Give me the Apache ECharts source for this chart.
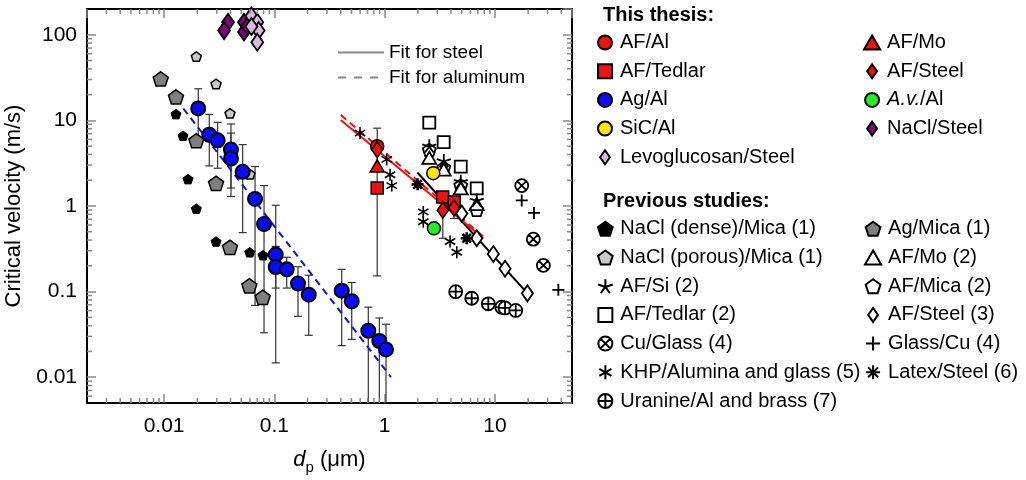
<!DOCTYPE html>
<html>
<head>
<meta charset="utf-8">
<script src="https://cdn.jsdelivr.net/npm/echarts@6/dist/echarts.min.js"></script>
<style>
  html, body { margin: 0; padding: 0; background: #fff; }
  #chart { width: 1026px; height: 480px; }
</style>
</head>
<body>
<div id="chart"></div>
<script>
// ---- Axis ranges (log scales) ----
const xRange = [0.002, 50];
const yRange = [0.005, 200];

// ---- This thesis: [d_p (um), critical velocity (m/s)] ----
const afAl = [[0.856, 4.99]];
const afMo = [[0.856, 2.94]];
const afTedlar = [[0.856, 1.62], [3.36, 1.27], [4.28, 1.11]];
const afSteel = [[0.856, 4.56], [3.37, 0.892], [4.26, 0.948]];
const agAl = [
  [0.0204, 13.8], [0.0257, 6.79], [0.0306, 5.85], [0.0404, 4.56], [0.0404, 3.59],
  [0.0516, 2.51], [0.0668, 1.21], [0.0806, 0.616], [0.1029, 0.271], [0.1029, 0.194],
  [0.1294, 0.182], [0.1638, 0.124], [0.205, 0.0922], [0.408, 0.1025], [0.503, 0.0772],
  [0.711, 0.0349], [0.895, 0.0265], [1.029, 0.0211]
];
const avAl = [[2.80, 0.548]];
const sicAl = [[2.76, 2.42]];
const naclSteel = [[0.038, 140], [0.035, 112], [0.053, 140], [0.053, 108], [0.057, 126]];
const levoSteel = [[0.062, 166], [0.070, 140], [0.072, 112], [0.070, 82], [0.062, 125]];

// ---- Error bars: [d_p, lower, upper] ----
const agAlErr = [
  [0.0204, 6.22, 23.4], [0.0257, 2.94, 11.75], [0.0306, 2.76, 9.5], [0.0404, 1.62, 9.08],
  [0.0404, 1.29, 7.1], [0.0516, 0.489, 5.21], [0.0668, 0.0689, 2.89], [0.0806, 0.0331, 1.73],
  [0.1029, 0.0147, 1.02], [0.1029, 0.11, 0.3375], [0.1294, 0.11, 0.252], [0.1638, 0.0515, 0.195],
  [0.205, 0.0309, 0.1553], [0.408, 0.0234, 0.182], [0.503, 0.0277, 0.1277],
  [0.711, 0.001, 0.0658], [0.895, 0.001, 0.0492], [1.029, 0.001, 0.0416]
];
const afErr = [[0.856, 0.1525, 8.11], [3.37, 0.42, 1.15], [4.26, 0.714, 1.2]];

// ---- Previous studies ----
const naclDenseMica = [[0.01282, 11.84], [0.01485, 6.61], [0.01647, 2.06], [0.0196, 0.931], [0.0296, 0.385], [0.0598, 0.288], [0.0789, 0.266]];
const naclPorousMica = [[0.0196, 55.6], [0.0296, 26.7], [0.0396, 12.1], [0.0601, 2.35]];
const agMica = [[0.00932, 30.5], [0.01282, 18.8], [0.0196, 5.79], [0.0296, 1.84], [0.0396, 0.329], [0.0593, 0.117], [0.0784, 0.0858]];
const afSi = [[2.54, 5.03], [3.44, 3.38], [4.9, 1.94], [6.84, 1.17]];
const afTedlarPrev = [[2.54, 9.43], [3.43, 5.57], [4.9, 2.89], [6.84, 1.61]];
const afMoPrev = [[2.54, 3.66], [3.44, 2.67], [4.9, 1.61], [6.84, 1.055]];
const afMicaPrev = [[2.54, 4.53], [3.44, 2.81], [4.9, 1.74], [6.84, 0.9]];
const afSteelPrev = [[5.0, 0.816], [6.84, 0.42], [9.67, 0.275], [12.35, 0.185], [19.7, 0.0954]];
const cuGlass = [[17.5, 1.73], [22.3, 0.41], [27.5, 0.2025]];
const glassCu = [[17.5, 1.163], [22.6, 0.831], [37.6, 0.105]];
const khp = [[0.598, 7.1], [1.044, 3.5], [1.119, 2.32], [1.16, 1.73], [2.24, 0.853], [2.24, 0.655], [3.92, 0.385], [4.51, 0.288]];
const latexSteel = [[1.99, 1.79], [5.55, 0.42]];
const uranine = [[4.41, 0.0998], [6.16, 0.0836], [8.71, 0.072], [11.53, 0.0658], [12.35, 0.0645], [15.44, 0.0603]];

// ---- Fit lines ----
const fitSteelAF = [[0.4, 10.1], [7.85, 0.42]];
const fitSteelPrev = [[1.98, 2.46], [19.4, 0.098]];
const fitAlAF = [[0.4, 11.6], [7.85, 0.44]];
const fitAlAg = [[0.01494, 13.77], [1.143, 0.01004]];

// ---- Legend entries ----
const thesisCol1 = ['AF/Al', 'AF/Tedlar', 'Ag/Al', 'SiC/Al', 'Levoglucosan/Steel'];
const thesisCol2 = ['AF/Mo', 'AF/Steel', 'A.v./Al', 'NaCl/Steel'];
const prevCol1 = ['NaCl (dense)/Mica (1)', 'NaCl (porous)/Mica (1)', 'AF/Si (2)', 'AF/Tedlar (2)', 'Cu/Glass (4)', 'KHP/Alumina and glass (5)', 'Uranine/Al and brass (7)'];
const prevCol2 = ['Ag/Mica (1)', 'AF/Mo (2)', 'AF/Mica (2)', 'AF/Steel (3)', 'Glass/Cu (4)', 'Latex/Steel (6)'];

// ---- Marker shapes ----
const CIRCLE = 'path://M50,0A50,50,0,1,1,50,100A50,50,0,1,1,50,0Z';
const TRI = 'path://M50,0L100,86.6L0,86.6Z';
const SQUARE = 'path://M0,0L100,0L100,100L0,100Z';
const DIAMOND = 'path://M35,0L70,50L35,100L0,50Z';
const PENT = 'path://M50,0L97.55,34.55L79.39,90.45L20.61,90.45L2.45,34.55Z';
const PLUS = 'path://M50,0L50,100M0,50L100,50';
const OTIMES = 'path://M50,0A50,50,0,1,1,50,100A50,50,0,1,1,50,0ZM14.6,14.6L85.4,85.4M85.4,14.6L14.6,85.4';
const OPLUS = 'path://M50,0A50,50,0,1,1,50,100A50,50,0,1,1,50,0ZM50,0L50,100M0,50L100,50';
const ASTER = 'path://M50,0L50,100M6.7,25L93.3,75M93.3,25L6.7,75';
const STAR5 = 'path://M50,50L50,0M50,50L97.55,34.55M50,50L79.39,90.45M50,50L20.61,90.45M50,50L2.45,34.55';
const BURST = 'path://M50,0L50,100M0,50L100,50M14.6,14.6L85.4,85.4M85.4,14.6L14.6,85.4';

const FONT = 'Liberation Sans';

function scatter(name, data, symbol, size, fill, bw, z) {
  return {
    type: 'scatter', name: name, data: data, symbol: symbol, symbolSize: size,
    symbolKeepAspect: true, z: z || 3,
    itemStyle: { color: fill, borderColor: '#000', borderWidth: bw, opacity: 1 },
    emphasis: { disabled: true }
  };
}

function fitLine(name, data, color, dashed) {
  return {
    type: 'line', name: name, data: data, symbol: 'none', z: 2,
    lineStyle: { color: color, width: 2, type: dashed ? [7, 5] : 'solid' },
    itemStyle: { color: color },
    emphasis: { disabled: true }
  };
}

function errorBars(data) {
  return {
    type: 'custom', silent: true, z: 2, clip: true, data: data,
    encode: { x: 0, y: [1, 2] },
    renderItem: function (params, api) {
      const x = api.value(0);
      const lo = api.coord([x, api.value(1)]);
      const hi = api.coord([x, api.value(2)]);
      const c = 4;
      const st = { stroke: '#333', lineWidth: 1.2 };
      return {
        type: 'group',
        children: [
          { type: 'line', shape: { x1: lo[0], y1: lo[1], x2: hi[0], y2: hi[1] }, style: st },
          { type: 'line', shape: { x1: hi[0] - c, y1: hi[1], x2: hi[0] + c, y2: hi[1] }, style: st },
          { type: 'line', shape: { x1: lo[0] - c, y1: lo[1], x2: lo[0] + c, y2: lo[1] }, style: st }
        ]
      };
    }
  };
}

// minor ticks at 2..9 within each decade
function minorValues(range) {
  const out = [];
  for (let e = Math.floor(Math.log10(range[0])); e <= Math.ceil(Math.log10(range[1])); e++) {
    for (let k = 2; k <= 9; k++) {
      const v = k * Math.pow(10, e);
      if (v > range[0] && v < range[1]) out.push(v);
    }
  }
  return out;
}
const xMinor = minorValues(xRange);
const yMinor = minorValues(yRange);

function minorTicks(isX) {
  return {
    type: 'custom', silent: true, z: 5, clip: false,
    data: isX ? xMinor.map(v => [v, 1]) : yMinor.map(v => [1, v]),
    encode: { x: 0, y: 1 },
    renderItem: function (params, api) {
      const cs = params.coordSys;
      const p = api.coord([api.value(0), api.value(1)]);
      const L = 5;
      const st = { stroke: '#888', lineWidth: 1.5 };
      if (isX) {
        return { type: 'group', children: [
          { type: 'line', shape: { x1: p[0], y1: cs.y + cs.height, x2: p[0], y2: cs.y + cs.height - L }, style: st },
          { type: 'line', shape: { x1: p[0], y1: cs.y, x2: p[0], y2: cs.y + L }, style: st }
        ] };
      }
      return { type: 'group', children: [
        { type: 'line', shape: { x1: cs.x, y1: p[1], x2: cs.x + L, y2: p[1] }, style: st },
        { type: 'line', shape: { x1: cs.x + cs.width, y1: p[1], x2: cs.x + cs.width - L, y2: p[1] }, style: st }
      ] };
    }
  };
}

const axisCommon = {
  type: 'log', logBase: 10,
  axisLine: { show: true, lineStyle: { color: '#000', width: 2 } },
  axisTick: { show: true, inside: true, length: 9, lineStyle: { color: '#888', width: 1.5 } },
  splitLine: { show: false },
  minorTick: { show: false }
};

const legendText = {
  fontFamily: FONT, fontSize: 20, color: '#000',
  rich: { it: { fontFamily: FONT, fontSize: 20, fontStyle: 'italic', color: '#000' },
          n: { fontFamily: FONT, fontSize: 20, color: '#000' } }
};
function legendFmt(name) {
  return name === 'A.v./Al' ? '{it|A.v.}{n|/Al}' : name;
}
function legendCol(data, left, top) {
  return {
    data: data, orient: 'vertical', left: left, top: top, itemWidth: 20, itemHeight: 14,
    itemGap: 8.7, padding: 0, textStyle: legendText, formatter: legendFmt, selectedMode: false
  };
}

const option = {
  animation: false,
  backgroundColor: '#fff',
  textStyle: { fontFamily: FONT },
  title: [
    { text: 'This thesis:', left: 603, top: 5, padding: 0, textStyle: { fontFamily: FONT, fontSize: 20, fontWeight: 'bold', color: '#000' } },
    { text: 'Previous studies:', left: 603, top: 191, padding: 0, textStyle: { fontFamily: FONT, fontSize: 20, fontWeight: 'bold', color: '#000' } }
  ],
  grid: { left: 87, top: 9, right: 454, bottom: 71, containLabel: false },
  xAxis: [
    Object.assign({}, axisCommon, {
      position: 'bottom', min: xRange[0], max: xRange[1],
      name: '{i|d}{s|p}{n| (μm)}', nameLocation: 'middle', nameGap: 42,
      nameTextStyle: { rich: {
        i: { fontFamily: FONT, fontSize: 22, fontStyle: 'italic', color: '#000', lineHeight: 30 },
        s: { fontFamily: FONT, fontSize: 15, color: '#000', lineHeight: 18, verticalAlign: 'bottom' },
        n: { fontFamily: FONT, fontSize: 22, color: '#000', lineHeight: 30 }
      } },
      axisLabel: { show: true, margin: 13, fontFamily: FONT, fontSize: 21, color: '#000', showMinLabel: false, showMaxLabel: false }
    }),
    Object.assign({}, axisCommon, { position: 'top', min: xRange[0], max: xRange[1], axisLabel: { show: false } })
  ],
  yAxis: [
    Object.assign({}, axisCommon, {
      position: 'left', min: yRange[0], max: yRange[1],
      name: 'Critical velocity (m/s)', nameLocation: 'middle', nameGap: 62, nameRotate: 90,
      nameTextStyle: { fontFamily: FONT, fontSize: 22, color: '#000' },
      axisLabel: { show: true, margin: 10, fontFamily: FONT, fontSize: 21, color: '#000', showMinLabel: false, showMaxLabel: false }
    }),
    Object.assign({}, axisCommon, { position: 'right', min: yRange[0], max: yRange[1], axisLabel: { show: false } })
  ],
  legend: [
    {
      data: [
        { name: 'Fit for steel' },
        { name: 'Fit for aluminum', lineStyle: { type: [8, 8] } }
      ],
      orient: 'vertical', left: 337, top: 43,
      itemWidth: 46, itemHeight: 14, itemGap: 6, padding: 0, selectedMode: false,
      lineStyle: { color: '#888', width: 2 },
      itemStyle: { color: 'rgba(0,0,0,0)', borderColor: 'rgba(0,0,0,0)', borderWidth: 0, opacity: 0 },
      textStyle: { fontFamily: FONT, fontSize: 19, color: '#000' }
    },
    legendCol(thesisCol1, 597, 32.5),
    legendCol(thesisCol2, 863, 32.5),
    legendCol(prevCol1, 597, 218.8),
    legendCol(prevCol2, 864, 218.8)
  ],
  series: [
    minorTicks(true),
    minorTicks(false),
    fitLine('Fit for steel', fitSteelPrev, '#000', false),
    fitLine('Fit for steel', fitSteelAF, '#f01010', false),
    fitLine('Fit for aluminum', fitAlAF, '#f01010', true),
    fitLine('Fit for aluminum', fitAlAg, '#1010ee', true),
    errorBars(agAlErr),
    errorBars(afErr),
    // previous studies
    scatter('NaCl (dense)/Mica (1)', naclDenseMica, PENT, 10, '#000', 1),
    scatter('NaCl (porous)/Mica (1)', naclPorousMica, PENT, 10, '#c8c8c8', 1.5),
    scatter('Ag/Mica (1)', agMica, PENT, 15, '#7f7f7f', 1.5),
    scatter('AF/Tedlar (2)', afTedlarPrev, SQUARE, 12, '#fff', 1.8),
    scatter('AF/Mica (2)', afMicaPrev, PENT, 13, '#fff', 1.8),
    scatter('AF/Mo (2)', afMoPrev, TRI, 14, '#fff', 1.8),
    scatter('AF/Si (2)', afSi, STAR5, 14, '#fff', 1.8),
    scatter('AF/Steel (3)', afSteelPrev, DIAMOND, 16, '#fff', 1.8),
    scatter('Cu/Glass (4)', cuGlass, OTIMES, 13, '#fff', 1.8),
    scatter('Glass/Cu (4)', glassCu, PLUS, 12, '#fff', 1.8),
    scatter('KHP/Alumina and glass (5)', khp, ASTER, 12, '#fff', 1.6),
    scatter('Latex/Steel (6)', latexSteel, BURST, 12, '#fff', 2.6),
    scatter('Uranine/Al and brass (7)', uranine, OPLUS, 13, '#fff', 1.8),
    // this thesis
    scatter('Ag/Al', agAl, CIRCLE, 14, '#0a0aff', 2, 4),
    scatter('NaCl/Steel', naclSteel, DIAMOND, 17, '#7a0a7a', 1.8, 4),
    scatter('Levoglucosan/Steel', levoSteel, DIAMOND, 17, '#dcb8dc', 1.8, 4),
    scatter('AF/Tedlar', afTedlar, SQUARE, 12, '#f01010', 1.5, 4),
    scatter('AF/Mo', afMo, TRI, 14, '#f01010', 1.5, 4),
    scatter('AF/Al', afAl, CIRCLE, 13, '#f01010', 1.5, 4),
    scatter('AF/Steel', afSteel, DIAMOND, 16, '#f01010', 1.5, 4),
    scatter('SiC/Al', sicAl, CIRCLE, 13, '#ffe600', 1.5, 4),
    scatter('A.v./Al', avAl, CIRCLE, 13, '#22ee22', 1.5, 4)
  ]
};

const chart = echarts.init(document.getElementById('chart'), null, { renderer: 'canvas' });
chart.setOption(option);
</script>
</body>
</html>
